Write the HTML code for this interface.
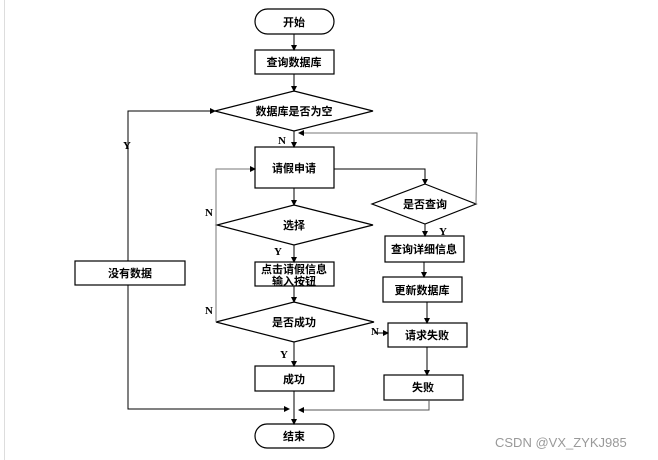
<!DOCTYPE html>
<html><head><meta charset="utf-8"><style>
html,body{margin:0;padding:0;background:#fff;}
svg{display:block}
text{font-family:"Liberation Sans","Noto Sans CJK SC",sans-serif;font-weight:bold;font-size:11px;fill:#000}
.y{font-family:"Liberation Serif",serif;font-size:11px}
</style></head><body>
<svg width="658" height="460" viewBox="0 0 658 460" xmlns="http://www.w3.org/2000/svg">
<defs><marker id="a" markerWidth="6" markerHeight="6" refX="5" refY="3" orient="auto" markerUnits="userSpaceOnUse"><path d="M0,0 L6,3 L0,6 z" fill="#000"/></marker></defs>
<line x1="4.5" y1="0" x2="4.5" y2="460" stroke="#ddd"/>
<g fill="none" stroke="#000" stroke-width="1.2">
<rect x="255" y="9" width="79" height="25" rx="12.5"/>
<rect x="255" y="50" width="79" height="24"/>
<polygon points="294,91 373,111 294,131 215,111"/>
<rect x="255" y="147" width="79" height="41"/>
<polygon points="425,184 476,204 425,224 372,204"/>
<polygon points="294,205 373,225 294,245 217,225"/>
<rect x="255" y="262" width="79" height="24"/>
<polygon points="294,302 374,322 294,342 216,322"/>
<rect x="255" y="366" width="79" height="25"/>
<rect x="255" y="424" width="79" height="24" rx="12"/>
<rect x="385" y="236" width="79" height="26"/>
<rect x="383" y="277" width="79" height="25"/>
<rect x="388" y="323" width="79" height="24"/>
<rect x="384" y="375" width="79" height="25"/>
<rect x="75" y="261" width="110" height="24"/>
</g>
<g fill="none" stroke="#000" stroke-width="1" marker-end="url(#a)">
<line x1="294" y1="34" x2="294" y2="50"/>
<line x1="294" y1="74" x2="294" y2="91"/>
<line x1="294" y1="131" x2="294" y2="147"/>
<line x1="294" y1="188" x2="294" y2="205"/>
<line x1="294" y1="245" x2="294" y2="262"/>
<line x1="294" y1="286" x2="294" y2="302"/>
<line x1="294" y1="342" x2="294" y2="366"/>
<line x1="294" y1="391" x2="294" y2="424"/>
<polyline points="334,169 425,169 425,184"/>
<polyline points="476,204 477,133 299,133" stroke="#777"/>
<line x1="425" y1="224" x2="425" y2="236"/>
<line x1="424" y1="262" x2="424" y2="277"/>
<line x1="427" y1="302" x2="427" y2="323"/>
<line x1="427" y1="347" x2="427" y2="375"/>
<polyline points="429,400 429,410 299,410" stroke="#555"/>
<polyline points="128,261 128,111 215,111"/>
<polyline points="128,285 128,409 289,409"/>
<polyline points="216,322 216,169 255,169" stroke="#777"/>
<line x1="374" y1="333" x2="388" y2="333"/>
</g>
<g text-anchor="middle">
<text x="294" y="26">开始</text>
<text x="294" y="66">查询数据库</text>
<text x="294" y="115">数据库是否为空</text>
<text x="294" y="172">请假申请</text>
<text x="425" y="208">是否查询</text>
<text x="294" y="229">选择</text>
<text x="294" y="273" font-size="10.5">点击请假信息</text>
<text x="294" y="285" font-size="10.5">输入按钮</text>
<text x="294" y="326">是否成功</text>
<text x="294" y="383">成功</text>
<text x="294" y="440">结束</text>
<text x="424" y="253">查询详细信息</text>
<text x="422" y="294">更新数据库</text>
<text x="427" y="339">请求失败</text>
<text x="423" y="391">失败</text>
<text x="130" y="277">没有数据</text>
</g>
<text class="y" x="278" y="144">N</text>
<text class="y" x="123" y="149">Y</text>
<text class="y" x="205" y="216">N</text>
<text class="y" x="205" y="314">N</text>
<text class="y" x="274" y="255">Y</text>
<text class="y" x="280" y="358">Y</text>
<text class="y" x="439" y="235">Y</text>
<text class="y" x="371" y="335">N</text>
<text x="495" y="447" style="font-weight:normal;font-size:13px;fill:#999">CSDN @VX_ZYKJ985</text>
</svg>
</body></html>
